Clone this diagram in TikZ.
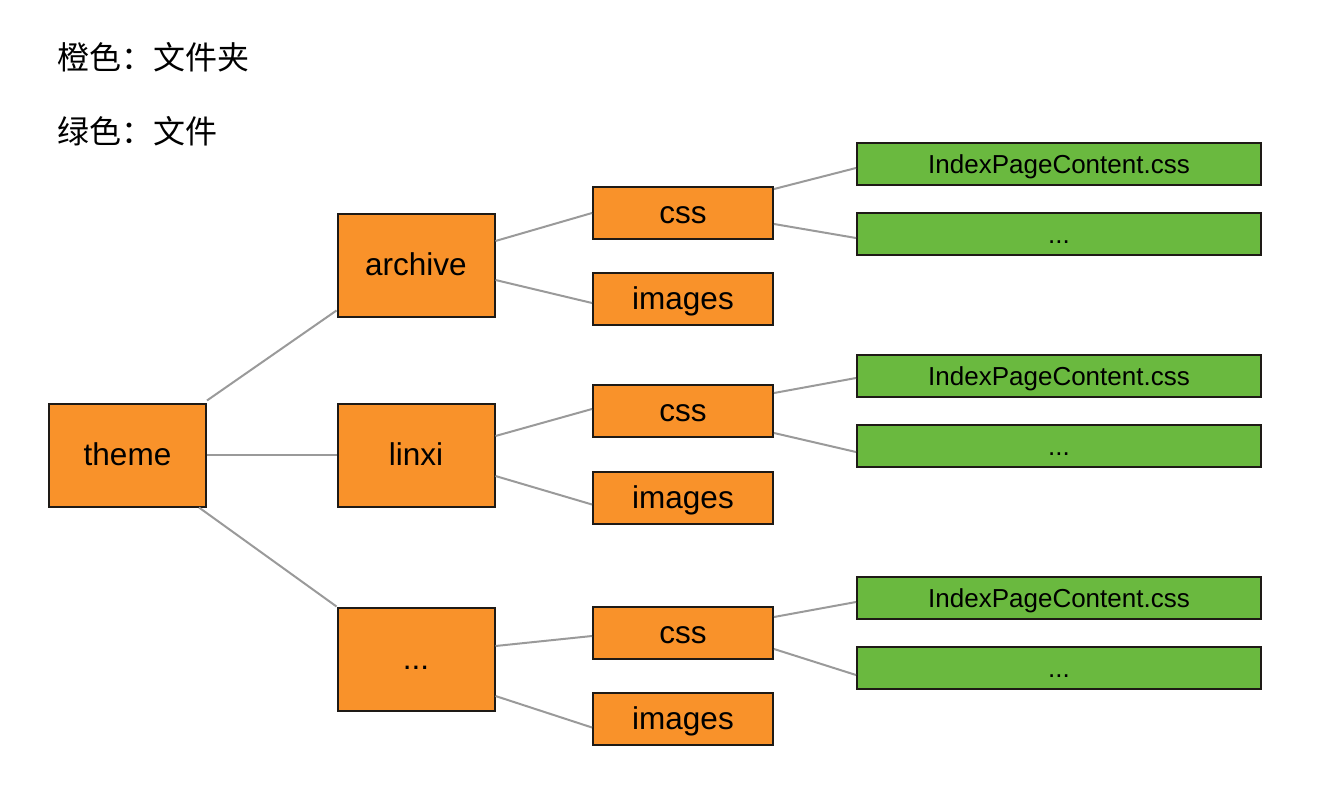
\documentclass[tikz,border=0pt]{standalone}
\usepackage{fontspec}
\setmainfont{Liberation Sans}
\newfontfamily\cjk{Noto Sans CJK SC}
\usetikzlibrary{calc}

\definecolor{folderfill}{HTML}{F9922A}
\definecolor{filefill}{HTML}{6AB93F}
\definecolor{linkgray}{HTML}{9A9A9A}
\definecolor{edgeblack}{HTML}{1E1A16}

\tikzset{
  folder/.style={draw=edgeblack, line width=2pt, fill=folderfill, inner sep=0pt,
    font=\fontsize{31.5}{36}\selectfont, text=black,
    text height=28.5pt, text depth=6.7pt},
  bigfolder/.style={folder, minimum width=157pt, minimum height=103pt},
  subfolder/.style={folder, minimum width=180pt, minimum height=52pt},
  filebox/.style={draw=edgeblack, line width=2pt, fill=filefill, inner sep=0pt,
    minimum width=404pt, minimum height=42pt,
    font=\fontsize{26}{30}\selectfont, text=black,
    text height=23.5pt, text depth=5.5pt},
  legend/.style={anchor=west, inner sep=0pt, font=\cjk\fontsize{32}{36}\selectfont},
  link/.style={draw=linkgray, line width=2pt}
}

\begin{document}
\begin{tikzpicture}[x=1pt, y=-1pt]
  \useasboundingbox (0,0) rectangle (1342,798);

  % legend
  \node[legend] (legA) at (57,57) {橙色：文件夹};
  \node[legend] (legB) at (57,131) {绿色：文件};

  % root folder
  \node[bigfolder] (theme) at (127.5,455) {theme};

  % second level folders
  \node[bigfolder] (archive) at (416,265) {archive};
  \node[bigfolder] (linxi)   at (416,455) {linxi};
  \node[bigfolder] (more)    at (416,659) {...};

  % third level folders
  \node[subfolder] (cssA) at (683,213) {css};
  \node[subfolder] (imgA) at (683,299) {images};
  \node[subfolder] (cssB) at (683,411) {css};
  \node[subfolder] (imgB) at (683,497.5) {images};
  \node[subfolder] (cssC) at (683,633) {css};
  \node[subfolder] (imgC) at (683,718.5) {images};

  % files
  \node[filebox] (fA1) at (1059,164) {IndexPageContent.css};
  \node[filebox] (fA2) at (1059,234) {...};
  \node[filebox] (fB1) at (1059,376) {IndexPageContent.css};
  \node[filebox] (fB2) at (1059,446) {...};
  \node[filebox] (fC1) at (1059,598) {IndexPageContent.css};
  \node[filebox] (fC2) at (1059,668) {...};

  % links from root
  \draw[link] ($(theme.north east)+(0,-2)$) -- ($(archive.south west)+(0,-7)$);
  \draw[link] (theme.east) -- (linxi.west);
  \draw[link] ($(theme.south east)+(-8,0)$) -- (more.north west);

  % links to third level
  \draw[link] ($(archive.east)+(0,-24)$) -- (cssA.west);
  \draw[link] ($(archive.east)+(0,15)$)  -- ($(imgA.west)+(0,4)$);
  \draw[link] ($(linxi.east)+(0,-19)$)   -- ($(cssB.west)+(0,-2)$);
  \draw[link] ($(linxi.east)+(0,21)$)    -- ($(imgB.west)+(0,7)$);
  \draw[link] ($(more.east)+(0,-13)$)    -- ($(cssC.west)+(0,3)$);
  \draw[link] ($(more.east)+(0,37)$)     -- ($(imgC.west)+(0,9)$);

  % links to files
  \draw[link] ($(cssA.east)+(0,-24)$) -- ($(fA1.west)+(0,4)$);
  \draw[link] ($(cssA.east)+(0,11)$)  -- ($(fA2.west)+(0,4)$);
  \draw[link] ($(cssB.east)+(0,-18)$) -- ($(fB1.west)+(0,2)$);
  \draw[link] ($(cssB.east)+(0,22)$)  -- ($(fB2.west)+(0,6)$);
  \draw[link] ($(cssC.east)+(0,-16)$) -- ($(fC1.west)+(0,4)$);
  \draw[link] ($(cssC.east)+(0,16)$)  -- ($(fC2.west)+(0,7)$);
\end{tikzpicture}
\end{document}
